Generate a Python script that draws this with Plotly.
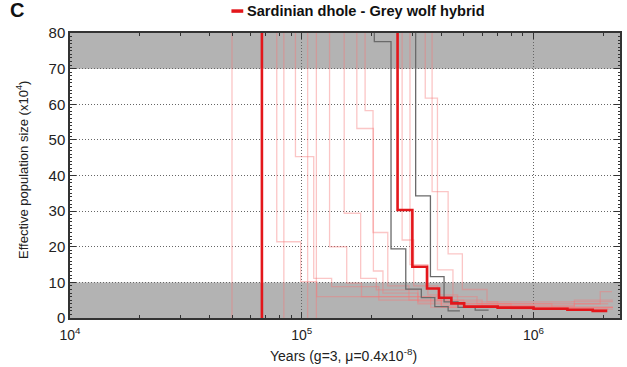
import plotly.graph_objects as go

# ---- data (years, effective population size x10^4) ----
red_edges = [5000, 67300, 259000, 300000, 347000, 391000, 442000, 502000, 700000, 1000000, 1400000, 1800000, 2080000]
red_vals = [-5, 200, 30.3, 14.4, 8.3, 5.7, 4.1, 3.2, 2.9, 2.6, 2.3, 2.0]

grey1_edges = [5000, 205600, 242700, 281000, 328000, 375000, 428000, 481000]
grey1_vals = [200, 77.6, 19.4, 8.1, 5.7, 3.2, 2.0]
grey2_edges = [5000, 310000, 359000, 411000, 472000, 560000, 640000]
grey2_vals = [200, 34.3, 11.6, 4.5, 3.0, 2.2]

pink_edges = [
    [5000, 50000, 78000, 98900, 116000, 360000, 1300000, 2100000],
    [5000, 83700, 93900, 112600, 134500, 215000, 500000, 1500000, 2100000],
    [5000, 106000, 131800, 156300, 181000, 400000, 1000000, 2200000],
    [5000, 115600, 152400, 179500, 209700, 317000, 700000, 2200000],
    [5000, 172800, 203700, 224000, 317000, 800000, 2100000],
    [5000, 187600, 203000, 235000, 290000, 400000, 1000000, 2200000],
    [5000, 271000, 304000, 386000, 600000, 1500000, 2200000],
    [5000, 293000, 350000, 470000, 1200000, 2200000],
    [5000, 341000, 385000, 449000, 570000, 1940000, 2180000],
    [5000, 365000, 428000, 493000, 630000, 1460000, 2200000],
]
pink_vals = [
    [-5, 200, 21.4, 10.2, 6, 3, 2.5],
    [-5, 200, 45.3, 11.1, 8.8, 5, 3, 4],
    [-5, 200, 20, 9.8, 6, 3.5, 3],
    [-5, 200, 29.4, 11.1, 7.9, 4.5, 3],
    [200, 53.2, 13.2, 7, 4, 2.5],
    [200, 58.2, 24, 9, 5, 3, 2.5],
    [200, 21.9, 9, 5, 3.5, 5],
    [200, 15, 6.5, 4, 3],
    [200, 61.7, 13.5, 6, 4, 7.4],
    [200, 35.5, 18, 8, 4.5, 4.6],
]

legend_label = "Sardinian dhole - Grey wolf hybrid"
x_tickvals = [1e4, 1e5, 1e6]
x_ticktext = ["10<sup>4</sup>", "10<sup>5</sup>", "10<sup>6</sup>"]
y_tickvals = [0, 10, 20, 30, 40, 50, 60, 70, 80]

FONT = "Liberation Sans, Arial, sans-serif"


def step(edges, vals):
    return list(edges), list(vals) + [vals[-1]]


fig = go.Figure()

for e, v in zip(pink_edges, pink_vals):
    x, y = step(e, v)
    fig.add_trace(go.Scatter(x=x, y=y, mode="lines", line_shape="hv",
                             line=dict(color="rgba(245,120,120,0.42)", width=1.3),
                             showlegend=False, hoverinfo="skip"))

for e, v in [(grey1_edges, grey1_vals), (grey2_edges, grey2_vals)]:
    x, y = step(e, v)
    fig.add_trace(go.Scatter(x=x, y=y, mode="lines", line_shape="hv",
                             line=dict(color="#6a6a6a", width=1.3),
                             showlegend=False))

x, y = step(red_edges, red_vals)
fig.add_trace(go.Scatter(x=x, y=y, mode="lines", line_shape="hv",
                         line=dict(color="#e3161b", width=2.6),
                         name=legend_label, showlegend=False))

# grey bands
for y0, y1 in [(0, 10), (70, 80)]:
    fig.add_shape(type="rect", xref="paper", yref="y", x0=0, x1=1, y0=y0, y1=y1,
                  fillcolor="#b3b3b3", line_width=0, layer="below")

# legend (manual)
fig.add_shape(type="line", xref="paper", yref="paper", x0=0.2935, x1=0.315,
              y0=1.077, y1=1.077, line=dict(color="#e3161b", width=3.5))
fig.add_annotation(text="<b>" + legend_label + "</b>", xref="paper", yref="paper",
                   x=0.319, y=1.077, xanchor="left", yanchor="middle", showarrow=False,
                   font=dict(family=FONT, size=14.6, color="#111"))
fig.add_annotation(text="<b>C</b>", xref="paper", yref="paper", x=-0.112, y=1.08,
                   xanchor="left", yanchor="middle", showarrow=False,
                   font=dict(family=FONT, size=20, color="#111"))
fig.add_annotation(text="Effective population size (x10<sup>4</sup>)", xref="paper", yref="paper",
                   x=-0.087, y=0.52, textangle=-90, showarrow=False,
                   xanchor="center", yanchor="middle",
                   font=dict(family=FONT, size=13, color="#222"))
fig.add_annotation(text="Years (g=3, \u03bc=0.4x10<sup>-8</sup>)", xref="paper", yref="paper",
                   x=0.498, y=-0.13, showarrow=False, xanchor="center", yanchor="middle",
                   font=dict(family=FONT, size=14, color="#222"))

fig.update_layout(
    width=627, height=367,
    margin=dict(l=70, r=5, t=33, b=49),
    paper_bgcolor="white", plot_bgcolor="white",
    font=dict(family=FONT, size=15, color="#222"),
    showlegend=False,
    xaxis=dict(type="log", range=[4, 6.373], tickvals=x_tickvals, ticktext=x_ticktext,
               ticks="inside", ticklen=6, tickcolor="#333", showline=True, mirror="allticks",
               linecolor="#333", linewidth=1.5, showgrid=True, gridcolor="#666",
               griddash="1px,2px", gridwidth=1, zeroline=False, tickfont=dict(size=14),
               ticklabelstandoff=3,
               minor=dict(ticks="inside", ticklen=3, tickcolor="#333", showgrid=False,
                          tickvals=[k * 10 ** p for p in (4, 5, 6) for k in range(2, 10)])),
    yaxis=dict(range=[0, 80], tickvals=y_tickvals, ticks="inside", ticklen=6, tickcolor="#333",
               showline=True, mirror="allticks", linecolor="#333", linewidth=1.5,
               showgrid=True, gridcolor="#666", griddash="1px,2px", gridwidth=1, zeroline=False,
               tickfont=dict(size=15),
               minor=dict(ticks="inside", ticklen=2.5, tickcolor="#333", dtick=1, showgrid=False)),
)

fig.write_html("out.html")
